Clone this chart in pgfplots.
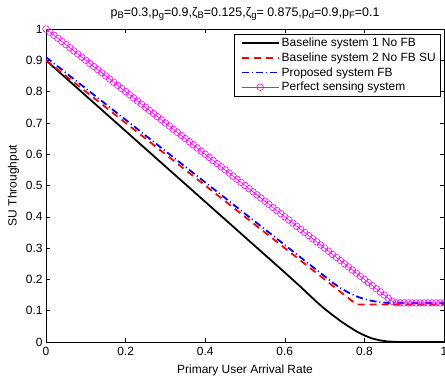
\documentclass[border=0pt]{standalone}
\usepackage{fontspec}
\setmainfont{Liberation Sans}
\usepackage{pgfplots}
\pgfplotsset{compat=1.18}
\definecolor{mred}{RGB}{255,0,0}
\definecolor{mblue}{RGB}{0,0,255}
\definecolor{mmag}{RGB}{255,0,255}
\newcommand{\sub}[1]{\raisebox{-0.35ex}{\fontsize{9.5}{10}\selectfont #1}}
\begin{document}
\begin{tikzpicture}
\begin{axis}[
  scale only axis, width=398bp, height=313bp,
  xmin=0, xmax=1, ymin=0, ymax=1,
  xtick={0,0.2,0.4,0.6,0.8,1},
  xticklabels={0,0.2,0.4,0.6,0.8,1},
  ytick={0,0.1,0.2,0.3,0.4,0.5,0.6,0.7,0.8,0.9,1},
  yticklabels={0,0.1,0.2,0.3,0.4,0.5,0.6,0.7,0.8,0.9,1},
  tick align=inside, major tick length=4bp,
  axis line style={line width=0.8bp},
  every tick/.style={black, line width=0.5bp},
  tick label style={font=\fontsize{12}{14}\selectfont},
  xticklabel style={yshift=-2bp},
  label style={font=\fontsize{12}{14}\selectfont},
  xlabel={Primary User Arrival Rate},
  ylabel={SU Throughput},
  xlabel style={yshift=-2bp},
  ylabel style={yshift=0bp},
  title={p\sub{B}=0.3,p\sub{g}=0.9,ζ\sub{B}=0.125,ζ\sub{g}= 0.875,p\sub{d}=0.9,p\sub{F}=0.1},
  title style={font=\fontsize{12.5}{14}\selectfont, yshift=-1bp},
  legend cell align=left,
  legend style={at={(1,1)}, anchor=north east, xshift=-4bp, yshift=-5bp,
    font=\fontsize{12}{14}\selectfont, draw=black,
    inner sep=2bp, row sep=0.5bp},
  legend image code/.code={\path (-5bp,0bp); \draw[mark repeat=2,mark phase=2,#1] plot coordinates {(0bp,0bp) (18.5bp,0bp) (37bp,0bp)};},
]
\addplot[black, line width=1.8bp] coordinates {
(0,0.9) (0.1,0.787) (0.2,0.674) (0.3,0.561) (0.4,0.448) (0.5,0.335) (0.6,0.222) (0.62,0.199) (0.64,0.176)
(0.66,0.152) (0.68,0.128) (0.70,0.106) (0.72,0.086) (0.74,0.067) (0.76,0.050) (0.78,0.034) (0.80,0.021)
(0.82,0.011) (0.84,0.005) (0.86,0.0015) (0.88,0.0003) (0.9,0) (1,0)};
\addlegendentry{Baseline system 1 No FB}
\addplot[mred, line width=1.8bp, dash pattern=on 7bp off 5bp] coordinates {
(0,0.9) (0.1,0.8) (0.2,0.7) (0.3,0.6) (0.4,0.5) (0.5,0.4) (0.6,0.3) (0.7,0.2) (0.78,0.12) (1,0.12)};
\addlegendentry{Baseline system 2 No FB SU}
\addplot[mblue, line width=1.8bp, dash pattern=on 7bp off 3bp on 1bp off 3bp] coordinates {
(0,0.91) (0.1,0.81) (0.2,0.71) (0.3,0.61) (0.4,0.51) (0.5,0.41) (0.6,0.31) (0.7,0.21) (0.72,0.19)
(0.74,0.172) (0.76,0.158) (0.78,0.146) (0.80,0.137) (0.82,0.131) (0.84,0.127) (0.86,0.125) (1,0.125)};
\addlegendentry{Proposed system FB}
\addplot[mmag, line width=0.6bp, mark=o, mark size=3.3bp, mark options={line width=0.6bp}] coordinates {
(0,1) (0.01,0.99) (0.02,0.98) (0.03,0.97) (0.04,0.96) (0.05,0.95) (0.06,0.94) (0.07,0.93) (0.08,0.92) (0.09,0.91)
(0.10,0.90) (0.11,0.89) (0.12,0.88) (0.13,0.87) (0.14,0.86) (0.15,0.85) (0.16,0.84) (0.17,0.83) (0.18,0.82) (0.19,0.81)
(0.20,0.80) (0.21,0.79) (0.22,0.78) (0.23,0.77) (0.24,0.76) (0.25,0.75) (0.26,0.74) (0.27,0.73) (0.28,0.72) (0.29,0.71)
(0.30,0.70) (0.31,0.69) (0.32,0.68) (0.33,0.67) (0.34,0.66) (0.35,0.65) (0.36,0.64) (0.37,0.63) (0.38,0.62) (0.39,0.61)
(0.40,0.60) (0.41,0.59) (0.42,0.58) (0.43,0.57) (0.44,0.56) (0.45,0.55) (0.46,0.54) (0.47,0.53) (0.48,0.52) (0.49,0.51)
(0.50,0.50) (0.51,0.49) (0.52,0.48) (0.53,0.47) (0.54,0.46) (0.55,0.45) (0.56,0.44) (0.57,0.43) (0.58,0.42) (0.59,0.41)
(0.60,0.40) (0.61,0.39) (0.62,0.38) (0.63,0.37) (0.64,0.36) (0.65,0.35) (0.66,0.34) (0.67,0.33) (0.68,0.32) (0.69,0.31)
(0.70,0.30) (0.71,0.29) (0.72,0.28) (0.73,0.27) (0.74,0.26) (0.75,0.25) (0.76,0.24) (0.77,0.23) (0.78,0.22) (0.79,0.21)
(0.80,0.20) (0.81,0.19) (0.82,0.18) (0.83,0.17) (0.84,0.16) (0.85,0.15) (0.86,0.14) (0.87,0.13) (0.88,0.125) (0.89,0.125)
(0.90,0.125) (0.91,0.125) (0.92,0.125) (0.93,0.125) (0.94,0.125) (0.95,0.125) (0.96,0.125) (0.97,0.125) (0.98,0.125) (0.99,0.125)
(1,0.125)};
\addlegendentry{Perfect sensing system}
\end{axis}
\pgfresetboundingbox
\path[use as bounding box] ([shift={(-46bp,-37bp)}]current axis.south west) rectangle ([shift={(1bp,29bp)}]current axis.north east);
\end{tikzpicture}
\end{document}
